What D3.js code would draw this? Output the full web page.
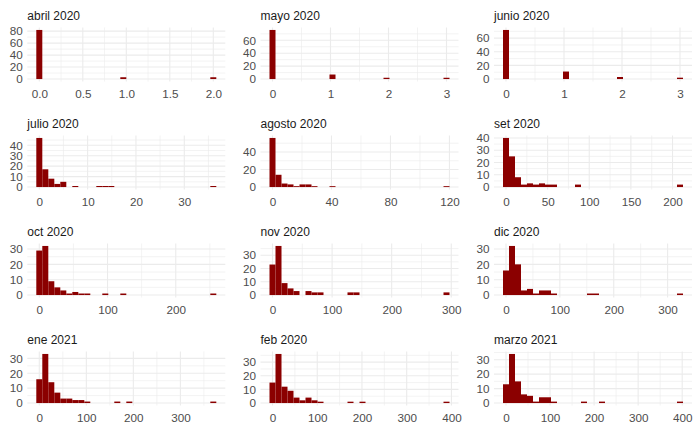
<!DOCTYPE html>
<html>
<head>
<meta charset="utf-8">
<script src="https://cdn.jsdelivr.net/npm/d3@7"></script>
<style>
  body { margin: 0; background: #fff; }
  svg text { font-family: "Liberation Sans", Arial, sans-serif; }
</style>
</head>
<body>
<svg id="chart" width="700" height="432"></svg>
<script>
// facet titles, in reading order (3 per row)
var months = ["abril 2020", "mayo 2020", "junio 2020",
              "julio 2020", "agosto 2020", "set 2020",
              "oct 2020", "nov 2020", "dic 2020",
              "ene 2021", "feb 2020", "marzo 2021"];

// largest value of each month: the last of the 30 bins is centred on it
var x_max = [2, 3, 3, 36, 118, 209, 255, 292, 323, 370, 389, 395];

// counts per bin (30 bins, first one centred on 0)
var abril  = [82,0,0,0,0,0,0,0,0,0, 0,0,0,0,3,0,0,0,0,0, 0,0,0,0,0,0,0,0,0,3];
var mayo   = [76,0,0,0,0,0,0,0,0,0, 7,0,0,0,0,0,0,0,0,2, 0,0,0,0,0,0,0,0,0,2];
var junio  = [72,0,0,0,0,0,0,0,0,0, 11,0,0,0,0,0,0,0,0,3, 0,0,0,0,0,0,0,0,0,2];
var julio  = [47,17,8,3,5,0,1,0,0,0, 1,1,1,0,0,0,0,0,0,0, 0,0,0,0,0,0,0,0,0,1];
var agosto = [56,14,4,3,1,3,3,1,0,0, 1,0,0,0,0,0,0,0,0,0, 0,0,0,0,0,0,0,0,0,1];
var set    = [40,25,8,2,3,2,3,2,2,0, 0,0,2,0,0,0,0,0,0,0, 0,0,0,0,0,0,0,0,0,2];
var oct    = [29,32,9,5,3,1,2,1,1,0, 0,1,0,0,1,0,0,0,0,0, 0,0,0,0,0,0,0,0,0,1];
var nov    = [23,37,9,5,3,0,3,2,2,0, 0,0,0,2,2,0,0,0,0,0, 0,0,0,0,0,0,0,0,0,2];
var dic    = [16,32,20,3,4,1,3,3,1,0, 0,0,0,0,1,1,0,0,0,0, 0,0,0,0,0,0,0,0,0,1];
var ene    = [16,33,14,7,3,3,2,2,1,0, 0,0,0,1,0,1,0,0,0,0, 0,0,0,0,0,0,0,0,0,1];
var feb    = [15,36,12,9,4,2,4,2,1,0, 0,0,0,1,0,1,0,0,0,0, 0,0,0,0,0,0,0,0,0,1];
var marzo  = [13,34,15,6,5,1,4,4,1,0, 0,0,0,1,0,0,1,0,0,0, 0,0,0,0,0,0,0,0,0,1];

// tick values shown on each facet
var x_ticks = [[0, 0.5, 1, 1.5, 2], [0, 1, 2, 3], [0, 1, 2, 3],
               [0, 10, 20, 30], [0, 40, 80, 120], [0, 50, 100, 150, 200],
               [0, 100, 200], [0, 100, 200, 300], [0, 100, 200, 300],
               [0, 100, 200, 300], [0, 100, 200, 300, 400], [0, 100, 200, 300, 400]];
var y_ticks = [[0, 20, 40, 60, 80], [0, 20, 40, 60], [0, 20, 40, 60],
               [0, 10, 20, 30, 40], [0, 20, 40], [0, 10, 20, 30, 40],
               [0, 10, 20, 30], [0, 10, 20, 30], [0, 10, 20, 30],
               [0, 10, 20, 30], [0, 10, 20, 30], [0, 10, 20, 30]];

var panels = [abril, mayo, junio, julio, agosto, set, oct, nov, dic, ene, feb, marzo];

/* panel layout (pixels) */
var col_left = [27.3, 260.5, 494];
var row_top = [27.5, 135.5, 243.5, 351.5];
var panel_w = 198, panel_h = 54;
var grid_color = "#ebebeb";

var svg = d3.select("#chart");

// ggplot style minor breaks: half way between majors, kept inside the panel
function minor_breaks(major, domain) {
  var step = major[1] - major[0];
  var out = [];
  for (var v = major[0] - step / 2; v <= domain[1]; v += step) {
    if (v >= domain[0]) out.push(v);
  }
  return out;
}

panels.forEach(function(counts, k) {
  var col = k % 3, row = Math.floor(k / 3);
  var left = col_left[col], top = row_top[row];

  var bw = x_max[k] / 29;
  var pad = 0.05 * (x_max[k] + bw);
  var x = d3.scaleLinear()
            .domain([-bw / 2 - pad, x_max[k] + bw / 2 + pad])
            .range([left, left + panel_w]);

  var ymax = d3.max(counts);
  var y = d3.scaleLinear()
            .domain([-0.05 * ymax, 1.05 * ymax])
            .range([top + panel_h, top]);

  var g = svg.append("g").attr("class", "panel");

  // grid: minor first, then major
  var grid = g.append("g").attr("stroke", grid_color).attr("fill", "none");
  minor_breaks(x_ticks[k], x.domain()).forEach(function(v) {
    grid.append("line").attr("x1", x(v)).attr("x2", x(v))
        .attr("y1", top).attr("y2", top + panel_h).attr("stroke-width", 0.6);
  });
  minor_breaks(y_ticks[k], y.domain()).forEach(function(v) {
    grid.append("line").attr("x1", left).attr("x2", left + panel_w)
        .attr("y1", y(v)).attr("y2", y(v)).attr("stroke-width", 0.6);
  });
  x_ticks[k].forEach(function(v) {
    grid.append("line").attr("x1", x(v)).attr("x2", x(v))
        .attr("y1", top).attr("y2", top + panel_h).attr("stroke-width", 1.1);
  });
  y_ticks[k].forEach(function(v) {
    grid.append("line").attr("x1", left).attr("x2", left + panel_w)
        .attr("y1", y(v)).attr("y2", y(v)).attr("stroke-width", 1.1);
  });

  // histogram bars
  var bins = counts.map(function(c, i) { return {mid: i * bw, n: c}; })
                   .filter(function(d) { return d.n > 0; });
  g.append("g").selectAll("rect")
      .data(bins)
    .enter().append("rect")
      .attr("x", function(d) { return x(d.mid - bw / 2); })
      .attr("width", function(d) { return x(d.mid + bw / 2) - x(d.mid - bw / 2); })
      .attr("y", function(d) { return y(d.n); })
      .attr("height", function(d) { return y(0) - y(d.n); })
      .style("fill", "#8b0000");

  // axes (no lines, no tick marks, like theme_minimal)
  var fmt = x_ticks[k].some(function(v) { return v % 1 !== 0; }) ? d3.format(".1f") : d3.format("d");
  var xa = g.append("g")
      .attr("transform", "translate(0," + (top + panel_h) + ")")
      .call(d3.axisBottom(x).tickValues(x_ticks[k]).tickFormat(fmt).tickSize(0).tickPadding(8.5));
  var ya = g.append("g")
      .attr("transform", "translate(" + left + ",0)")
      .call(d3.axisLeft(y).tickValues(y_ticks[k]).tickFormat(d3.format("d")).tickSize(0).tickPadding(4.5));
  [xa, ya].forEach(function(a) {
    a.select(".domain").remove();
    a.attr("font-size", 11.7).attr("font-family", null);
    a.selectAll("text").style("fill", "#4d4d4d");
  });

  // facet strip title
  g.append("text")
      .attr("x", left)
      .attr("y", top - 8)
      .style("font-size", "12px")
      .style("fill", "#1a1a1a")
      .text(months[k]);
});
</script>
</body>
</html>
